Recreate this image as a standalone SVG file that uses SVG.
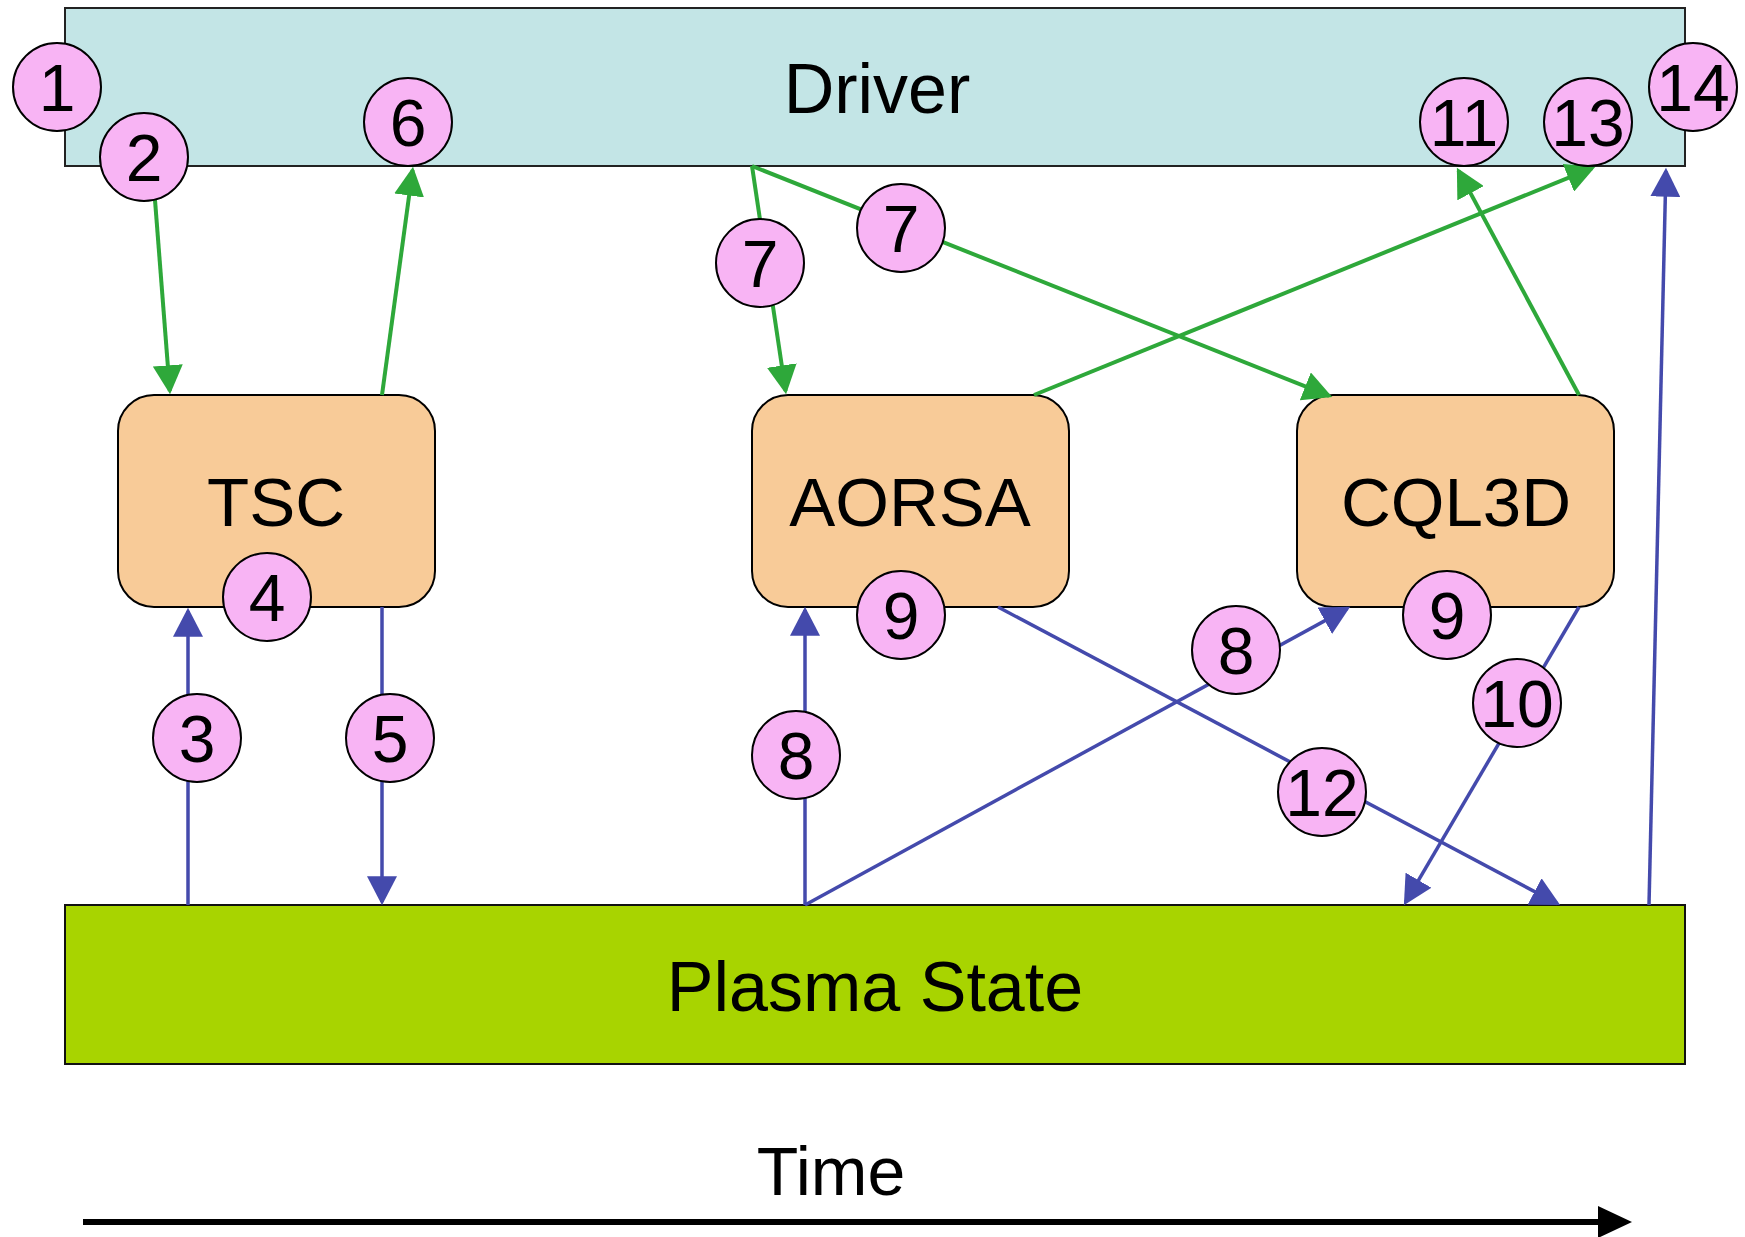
<svg xmlns="http://www.w3.org/2000/svg" width="1745" height="1237" viewBox="0 0 1745 1237">
<style>
.lbl{font-family:"Liberation Sans",Arial,sans-serif;fill:#000;text-anchor:middle}
.big{font-size:70px}
.node{font-size:69px}
.num{font-size:66px}
.circ{fill:#f8b4f4;stroke:#000;stroke-width:2}
.box{fill:#f8cb98;stroke:#000;stroke-width:2}
.g{stroke:#2ea83a;stroke-width:4;fill:none;marker-end:url(#ag)}
.b{stroke:#444aac;stroke-width:3.5;fill:none;marker-end:url(#ab)}
</style>
<defs>
<marker id="ag" markerUnits="userSpaceOnUse" markerWidth="30" markerHeight="30" refX="24" refY="14" orient="auto" viewBox="0 0 28 28">
<path d="M0,0 L27,14 L0,28 z" fill="#2ea83a"/>
</marker>
<marker id="ab" markerUnits="userSpaceOnUse" markerWidth="30" markerHeight="30" refX="24" refY="14" orient="auto" viewBox="0 0 28 28">
<path d="M0,0 L27,14 L0,28 z" fill="#444aac"/>
</marker>
</defs>
<rect width="1745" height="1237" fill="#fff"/>
<g id="driver">
<rect x="65" y="8" width="1620" height="158" fill="#c3e5e6" stroke="#222" stroke-width="2"/>
<text class="lbl big" x="877" y="113">Driver</text>
</g>
<g id="plasma-state">
<rect x="65" y="905" width="1620" height="159" fill="#a8d400" stroke="#111" stroke-width="2"/>
<text class="lbl big" x="875" y="1011">Plasma State</text>
</g>
<g id="tsc">
<rect class="box" x="118" y="395" width="317" height="212" rx="36" ry="36"/>
<text class="lbl node" x="276" y="526">TSC</text>
</g>
<g id="aorsa">
<rect class="box" x="752" y="395" width="317" height="212" rx="36" ry="36"/>
<text class="lbl node" x="910" y="526">AORSA</text>
</g>
<g id="cql3d">
<rect class="box" x="1297" y="395" width="317" height="212" rx="36" ry="36"/>
<text class="lbl node" x="1456" y="526">CQL3D</text>
</g>
<g id="connectors">
<path class="g" d="M155,200 L169.8,391"/>
<path class="g" d="M382,395 L412.6,170"/>
<path class="g" d="M752,166 L785.6,391"/>
<path class="g" d="M752,166 L1329.2,395.9"/>
<path class="g" d="M1034,395 L1592.2,168.1"/>
<path class="g" d="M1579,395 L1458.4,170.6"/>
<path class="b" d="M188,905 L188,611"/>
<path class="b" d="M382,607 L382,902"/>
<path class="b" d="M805,905 L805,610"/>
<path class="b" d="M805,905 L1347.4,608.4"/>
<path class="b" d="M998,607 L1557.3,903.6"/>
<path class="b" d="M1579,607 L1405.5,902.4"/>
<path class="b" d="M1649,905 L1665.9,171"/>
</g>
<g id="labels">
<g id="n1"><circle class="circ" cx="57" cy="87" r="44"/><text class="lbl num" x="57" y="111">1</text></g>
<g id="n2"><circle class="circ" cx="144" cy="157" r="44"/><text class="lbl num" x="144" y="181">2</text></g>
<g id="n6"><circle class="circ" cx="408" cy="122" r="44"/><text class="lbl num" x="408" y="146">6</text></g>
<g id="n7a"><circle class="circ" cx="760" cy="263" r="44"/><text class="lbl num" x="760" y="287">7</text></g>
<g id="n7b"><circle class="circ" cx="901" cy="228" r="44"/><text class="lbl num" x="901" y="252">7</text></g>
<g id="n11"><circle class="circ" cx="1464" cy="122" r="44"/><text class="lbl num" x="1464" y="146">11</text></g>
<g id="n13"><circle class="circ" cx="1588" cy="122" r="44"/><text class="lbl num" x="1588" y="146">13</text></g>
<g id="n14"><circle class="circ" cx="1693" cy="87" r="44"/><text class="lbl num" x="1693" y="111">14</text></g>
<g id="n4"><circle class="circ" cx="267" cy="597" r="44"/><text class="lbl num" x="267" y="621">4</text></g>
<g id="n3"><circle class="circ" cx="197" cy="738" r="44"/><text class="lbl num" x="197" y="762">3</text></g>
<g id="n5"><circle class="circ" cx="390" cy="738" r="44"/><text class="lbl num" x="390" y="762">5</text></g>
<g id="n9a"><circle class="circ" cx="901" cy="615" r="44"/><text class="lbl num" x="901" y="639">9</text></g>
<g id="n8a"><circle class="circ" cx="796" cy="755" r="44"/><text class="lbl num" x="796" y="779">8</text></g>
<g id="n9b"><circle class="circ" cx="1447" cy="615" r="44"/><text class="lbl num" x="1447" y="639">9</text></g>
<g id="n8b"><circle class="circ" cx="1236" cy="650" r="44"/><text class="lbl num" x="1236" y="674">8</text></g>
<g id="n10"><circle class="circ" cx="1517" cy="703" r="44"/><text class="lbl num" x="1517" y="727">10</text></g>
<g id="n12"><circle class="circ" cx="1322" cy="792" r="44"/><text class="lbl num" x="1322" y="816">12</text></g>
</g>
<g id="time-axis">
<text class="lbl big" x="831" y="1195" style="font-size:68px">Time</text>
<line x1="83" y1="1222" x2="1600" y2="1222" stroke="#000" stroke-width="6"/>
<polygon points="1598,1206 1632,1222 1598,1238" fill="#000"/>
</g>
</svg>
